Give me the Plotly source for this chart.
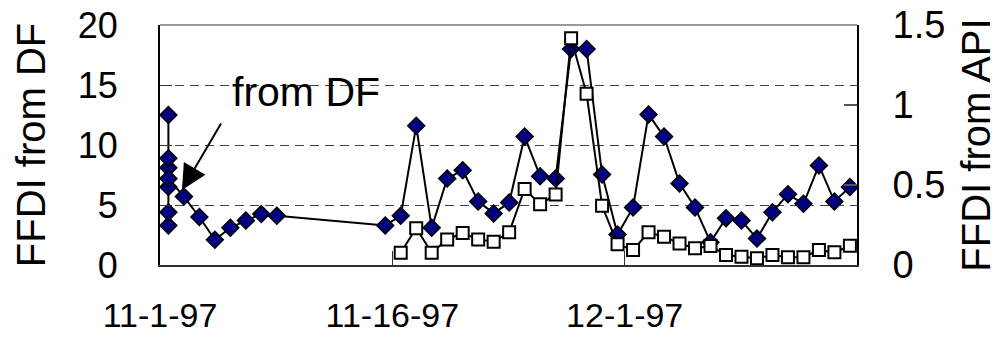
import plotly.graph_objects as go

# ---- data ----
df_dates = ["1997-11-01 13:00"] * 7 + [
    "1997-11-02 13:00", "1997-11-03 13:00", "1997-11-04 13:00", "1997-11-05 13:00",
    "1997-11-06 13:00", "1997-11-07 13:00", "1997-11-08 13:00",
    "1997-11-15 13:00", "1997-11-16 13:00", "1997-11-17 13:00", "1997-11-18 13:00",
    "1997-11-19 13:00", "1997-11-20 13:00", "1997-11-21 13:00", "1997-11-22 13:00",
    "1997-11-23 13:00", "1997-11-24 13:00", "1997-11-25 13:00", "1997-11-26 13:00",
    "1997-11-27 13:00", "1997-11-28 13:00", "1997-11-29 13:00", "1997-11-30 13:00",
    "1997-12-01 13:00", "1997-12-02 13:00", "1997-12-03 13:00", "1997-12-04 13:00",
    "1997-12-05 13:00", "1997-12-06 13:00", "1997-12-07 13:00", "1997-12-08 13:00",
    "1997-12-09 13:00", "1997-12-10 13:00", "1997-12-11 13:00", "1997-12-12 13:00",
    "1997-12-13 13:00", "1997-12-14 13:00", "1997-12-15 13:00",
]
df_values = [8.1, 12.5, 3.3, 4.4, 6.5, 8.9, 7.2,
             5.7, 4.0, 2.1, 3.1, 3.7, 4.25, 4.1,
             3.3, 4.1, 11.6, 3.1, 7.2, 7.9, 5.3, 4.3, 5.2, 10.7, 7.4, 7.2,
             18.0, 18.0, 7.55, 2.55, 4.8, 12.55, 10.7, 6.8, 4.8, 1.9, 3.9, 3.7,
             2.2, 4.4, 5.9, 5.1, 8.3, 5.3, 6.5]

api_dates = [
    "1997-11-16 13:00", "1997-11-17 13:00", "1997-11-18 13:00", "1997-11-19 13:00",
    "1997-11-20 13:00", "1997-11-21 13:00", "1997-11-22 13:00", "1997-11-23 13:00",
    "1997-11-24 13:00", "1997-11-25 13:00", "1997-11-26 13:00", "1997-11-27 13:00",
    "1997-11-28 13:00", "1997-11-29 13:00", "1997-11-30 13:00", "1997-12-01 13:00",
    "1997-12-02 13:00", "1997-12-03 13:00", "1997-12-04 13:00", "1997-12-05 13:00",
    "1997-12-06 13:00", "1997-12-07 13:00", "1997-12-08 13:00", "1997-12-09 13:00",
    "1997-12-10 13:00", "1997-12-11 13:00", "1997-12-12 13:00", "1997-12-13 13:00",
    "1997-12-14 13:00", "1997-12-15 13:00",
]
api_values = [0.077, 0.23, 0.077, 0.16, 0.20, 0.16, 0.146, 0.204, 0.475, 0.38,
              0.44, 1.417, 1.07, 0.37, 0.13, 0.094, 0.204, 0.177, 0.135, 0.104,
              0.119, 0.0625, 0.052, 0.042, 0.0625, 0.048, 0.048, 0.094, 0.079, 0.12]

x_tickvals = ["1997-11-01", "1997-11-16", "1997-12-01", "1997-12-16"]
x_ticktext = ["11-1-97", "11-16-97", "12-1-97", ""]
left_ticks = [0, 5, 10, 15, 20]
right_ticks = [0, 0.5, 1, 1.5]
right_ticktext = ["0", "0.5", "1", "1.5"]

FONT = "Liberation Sans, Arial, sans-serif"

fig = go.Figure()
fig.add_trace(go.Scatter(
    x=df_dates, y=df_values, mode="lines+markers", name="from DF",
    line=dict(color="black", width=2),
    marker=dict(symbol="diamond", size=13, color="#000080",
                line=dict(color="black", width=1.5)),
    yaxis="y", showlegend=False, cliponaxis=False,
))
fig.add_trace(go.Scatter(
    x=api_dates, y=api_values, mode="lines+markers", name="from API",
    line=dict(color="black", width=2),
    marker=dict(symbol="square", size=12, color="white",
                line=dict(color="black", width=2)),
    yaxis="y2", showlegend=False, cliponaxis=False,
))

fig.update_layout(
    width=1005, height=347,
    margin=dict(l=160, r=148, t=25, b=82),
    paper_bgcolor="white", plot_bgcolor="white",
    font=dict(family=FONT, color="black", size=36),
    xaxis=dict(
        type="date", range=["1997-11-01", "1997-12-16"], automargin=False,
        tickmode="array", tickvals=x_tickvals, ticktext=x_ticktext,
        ticks="inside", ticklen=14, tickcolor="#333", tickwidth=1,
        showgrid=False, showline=True, linecolor="#333", linewidth=2,
        zeroline=False, tickfont=dict(size=34), ticklabelstandoff=19,
    ),
    yaxis=dict(
        range=[0, 20], tickmode="array", tickvals=left_ticks, automargin=False,
        ticks="inside", ticklen=12, tickcolor="#333",
        showgrid=True, gridcolor="#444", griddash="9px,6px", gridwidth=1,
        showline=True, linecolor="black", linewidth=2, zeroline=False,
        title=dict(text="FFDI from DF", font=dict(size=40), standoff=20),
        tickfont=dict(size=36), ticklabelstandoff=33,
    ),
    yaxis2=dict(
        range=[0, 1.5], overlaying="y", side="right", tickmode="array",
        tickvals=right_ticks, ticktext=right_ticktext, automargin=False,
        ticks="inside", ticklen=13, tickcolor="#555", tickwidth=2,
        showgrid=False, showline=True, linecolor="black", linewidth=2,
        zeroline=False,
        title=dict(text="FFDI from API", font=dict(size=40), standoff=18),
        tickfont=dict(size=38), ticklabelstandoff=26,
    ),
    shapes=[dict(type="line", xref="paper", yref="paper", x0=0, x1=1, y0=1, y1=1,
                 line=dict(color="#999", width=2))],
    annotations=[
        dict(x="1997-11-10 10:00", y=14.4, xref="x", yref="y", text="from DF",
             showarrow=False, font=dict(size=41), xanchor="center", yanchor="middle"),
        dict(x="1997-11-02 10:00", y=6.25, xref="x", yref="y", text="",
             showarrow=True, ax=40, ay=-68, arrowhead=2, arrowsize=2.5,
             arrowwidth=2, arrowcolor="black"),
    ],
)

fig.write_html("out.html", config={"displayModeBar": False},
               post_script="document.body.style.margin='0';document.body.style.overflow='hidden';")
